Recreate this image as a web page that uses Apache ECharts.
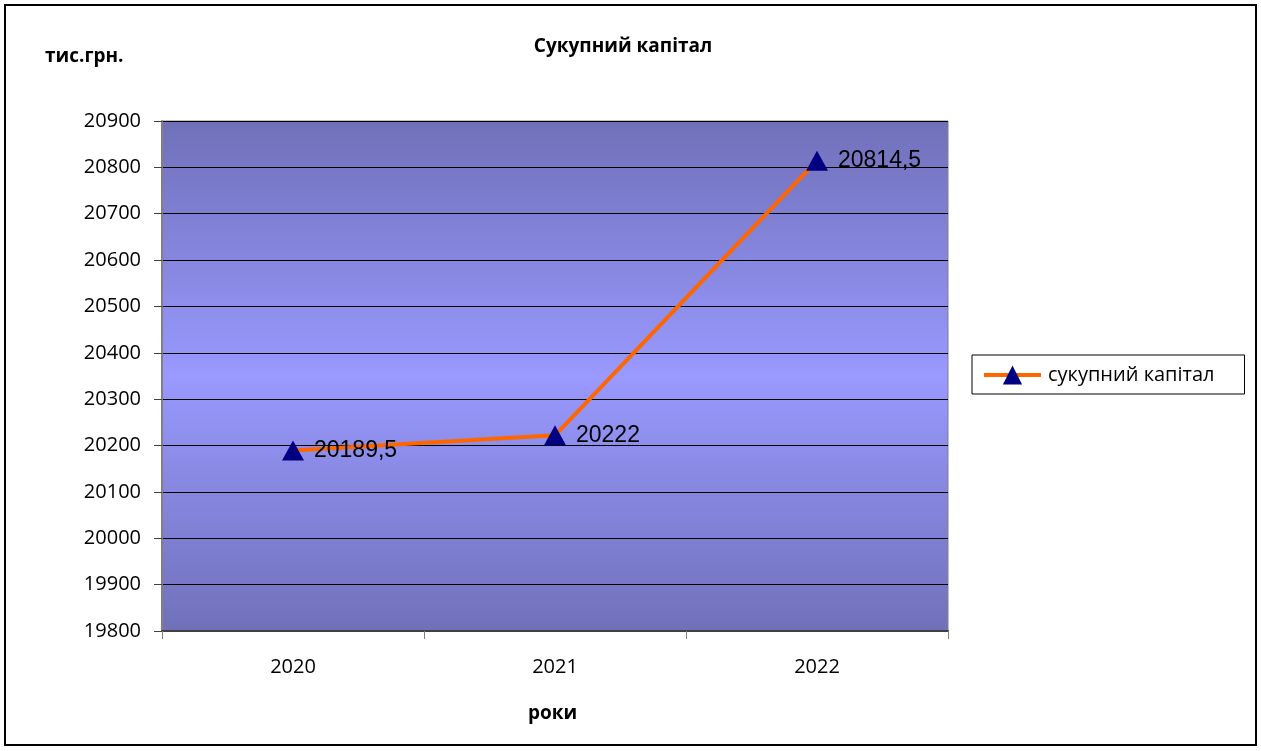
<!DOCTYPE html>
<html>
<head>
<meta charset="utf-8">
<style>
  html, body { margin: 0; padding: 0; background: #fff; }
  #chart { width: 1261px; height: 751px; }
</style>
<script src="https://cdn.jsdelivr.net/npm/echarts@6/dist/echarts.min.js"></script>
</head>
<body>
<div id="chart"></div>
<script>
    var years = ['2020', '2021', '2022'];
    var capital = [20189.5, 20222, 20814.5];
    var seriesName = 'сукупний капітал';

    var myChart = echarts.init(document.getElementById('chart'));

    var option = {
        backgroundColor: '#fff',
        animation: false,
        title: {
            text: 'Сукупний капітал',
            left: 618,
            top: 32,
            textAlign: 'center',
            textStyle: { fontFamily: 'Open Sans', fontSize: 19, fontWeight: 'bold', color: '#000' }
        },
        graphic: [
            {
                type: 'rect',
                shape: { x: 5, y: 5, width: 1251, height: 740 },
                style: { fill: 'none', stroke: '#000', lineWidth: 2 },
                silent: true
            },
            {
                type: 'text',
                left: 45,
                top: 47,
                style: { text: 'тис.грн.', font: 'bold 19px "Open Sans"', fill: '#000' }
            },
            {
                type: 'text',
                left: 528,
                top: 704,
                style: { text: 'роки', font: 'bold 19px "Open Sans"', fill: '#000' }
            }
        ],
        legend: {
            orient: 'vertical',
            left: 972,
            top: 355,
            data: [seriesName],
            borderColor: '#000',
            borderWidth: 1,
            padding: [10, 30, 9, 10],
            itemWidth: 57,
            itemHeight: 24,
            itemGap: 0,
            lineStyle: { width: 4 },
            textStyle: { fontFamily: 'Open Sans', fontSize: 20, color: '#000', padding: [0, 0, 0, 2] }
        },
        grid: {
            left: 162,
            right: 313,
            top: 121,
            bottom: 120,
            show: true,
            borderColor: '#808080',
            borderWidth: 1,
            backgroundColor: new echarts.graphic.LinearGradient(0, 0, 0, 1, [
                { offset: 0, color: '#7070b9' },
                { offset: 0.5, color: '#9999ff' },
                { offset: 1, color: '#7070b9' }
            ])
        },
        xAxis: {
            type: 'category',
            data: years,
            boundaryGap: true,
            axisLine: { lineStyle: { color: '#404040', width: 2 } },
            axisTick: { show: true, length: 8, lineStyle: { color: '#808080' } },
            axisLabel: { fontFamily: 'Open Sans', fontSize: 20, color: '#000', margin: 26 }
        },
        yAxis: {
            type: 'value',
            min: 19800,
            max: 20900,
            interval: 100,
            axisLine: { show: true, lineStyle: { color: '#808080', width: 2 } },
            axisTick: { show: true, length: 8, lineStyle: { color: '#404040' } },
            axisLabel: {
                fontFamily: 'Open Sans', fontSize: 20, color: '#000', margin: 21,
                formatter: function (v) { return String(v); }
            },
            splitLine: { show: true, lineStyle: { color: '#000', width: 1 } }
        },
        series: [
            {
                name: seriesName,
                type: 'line',
                data: capital,
                symbol: 'triangle',
                symbolSize: [22, 20],
                itemStyle: { color: '#000080' },
                lineStyle: { color: '#ff6600', width: 4 },
                label: {
                    show: true,
                    position: 'right',
                    distance: 10,
                    fontFamily: 'Liberation Sans',
                    fontSize: 23,
                    color: '#000',
                    formatter: function (p) {
                        return String(p.value).replace('.', ',');
                    }
                }
            }
        ]
    };

    if (option && typeof option === "object") {
        myChart.setOption(option, true);
    }
    window.onresize = function () {
        myChart.resize();
    };
</script>
</body>
</html>
